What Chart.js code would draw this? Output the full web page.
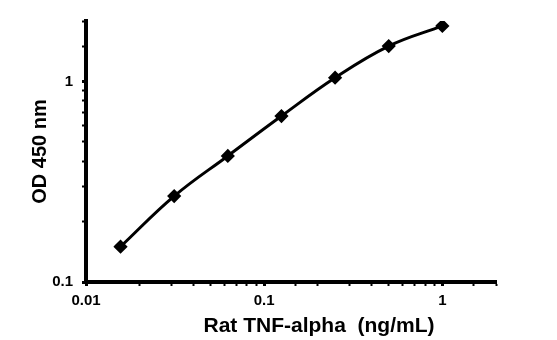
<!DOCTYPE html>
<html>
<head>
<meta charset="utf-8">
<script src="https://cdn.jsdelivr.net/npm/chart.js@4"></script>
<style>
  html, body { margin: 0; padding: 0; background: #fff; }
  .wrap { position: relative; width: 557px; height: 340px; }
  .x-title {
    position: absolute; left: 0; width: 638px; top: 313px;
    text-align: center; font: bold 21px "Liberation Sans", Arial, sans-serif;
    color: #000; white-space: pre; line-height: 24px;
  }
</style>
</head>
<body>
<div class="wrap">
  <canvas id="curve" width="557" height="340"></canvas>
  <div class="x-title">Rat TNF-alpha  (ng/mL)</div>
</div>
<script>
// standard curve, ng/mL vs OD
const concentrations = [0.015625, 0.03125, 0.0625, 0.125, 0.25, 0.5, 1];
const odValues = [0.150, 0.268, 0.425, 0.672, 1.043, 1.50, 1.89];
const xRange = [0.01, 2];
const yRange = [0.1, 2];

function isDecade(v) {
  const l = Math.log10(v);
  return Math.abs(l - Math.round(l)) < 1e-6;
}
function decadeLabel(v) {
  if (!isDecade(v)) return '';
  const e = Math.round(Math.log10(v));
  return e >= 0 ? String(Math.round(v)) : v.toFixed(-e);
}

const FONT = '"Liberation Sans", Arial, sans-serif';

function axisOpts(min, max, extra) {
  return Object.assign({
    type: 'logarithmic',
    min: min, max: max,
    border: { display: true, color: '#000', width: 4 },
    grid: {
      display: true, drawOnChartArea: false, drawTicks: true,
      tickLength: 4, color: '#000',
      tickWidth: ctx => (ctx.tick && isDecade(ctx.tick.value) ? 3 : 2),
      tickColor: '#000'
    },
    ticks: {
      autoSkip: false, maxRotation: 0, color: '#000',
      font: { family: FONT, size: 15, weight: 'bold' },
      callback: v => decadeLabel(v)
    }
  }, extra);
}

const xAxis = axisOpts(xRange[0], xRange[1], {
  position: 'bottom',
  afterFit: s => { s.height = 58; }
});
xAxis.ticks.padding = 6;

const yAxis = axisOpts(yRange[0], yRange[1], {
  position: 'left',
  title: {
    display: true, text: 'OD 450 nm', color: '#000',
    font: { family: FONT, size: 20, weight: 'bold' },
    padding: { top: 28, bottom: 0 }
  },
  afterFit: s => { s.width = 86; }
});
yAxis.ticks.padding = 9;

new Chart(document.getElementById('curve'), {
  type: 'scatter',
  data: {
    datasets: [{
      data: concentrations.map((c, i) => ({ x: c, y: odValues[i] })),
      showLine: true,
      borderColor: '#000',
      backgroundColor: '#000',
      borderWidth: 3,
      tension: 0.4,
      pointStyle: 'rectRot',
      pointRadius: 5,
      pointHoverRadius: 5
    }]
  },
  options: {
    responsive: false,
    animation: false,
    layout: { padding: { left: 0, top: 21, right: 61, bottom: 0 } },
    plugins: { legend: { display: false }, tooltip: { enabled: false } },
    scales: { x: xAxis, y: yAxis }
  }
});
</script>
</body>
</html>
